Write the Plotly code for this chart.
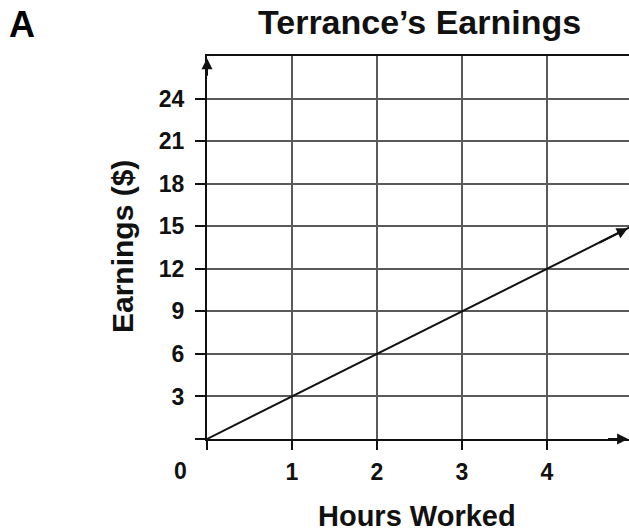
import plotly.graph_objects as go

# Terrance earns $3 for every hour worked
hours = [0, 1, 2, 3, 4, 5]
earnings = [0, 3, 6, 9, 12, 15]

x_ticks = [0, 1, 2, 3, 4]
x_tick_labels = ["", "1", "2", "3", "4"]
y_ticks = [0, 3, 6, 9, 12, 15, 18, 21, 24]
y_tick_labels = ["", "3", "6", "9", "12", "15", "18", "21", "24"]

X_MAX = 4.965
Y_MAX = 27

W, H = 629, 532
M_L, M_R, M_T, M_B = 207, 0, 56, 93
PLOT_W = W - M_L - M_R
PLOT_H = H - M_T - M_B

FONT = "Liberation Sans, Arial, sans-serif"
INK = "#111111"
GRID = "#5a5a5a"


def px_x(px):
    """Pixel column -> paper x."""
    return (px - M_L) / PLOT_W


def px_y(py):
    """Pixel row -> paper y."""
    return (H - M_B - py) / PLOT_H


rate = earnings[1] / hours[1]
tip_x = 4.95
tail_x = 4.6

fig = go.Figure()
fig.add_trace(go.Scatter(
    x=hours, y=earnings, mode="lines",
    line=dict(color=INK, width=2),
    hoverinfo="skip", showlegend=False,
))

arrow = dict(xref="x", yref="y", axref="x", ayref="y", text="",
             showarrow=True, arrowhead=2, arrowsize=1.1, arrowwidth=2, arrowcolor=INK)

annotations = [
    # arrowhead at the end of the earnings line
    dict(x=tip_x, y=rate * tip_x, ax=tail_x, ay=rate * tail_x, **arrow),
    # axis arrowheads
    dict(x=0, y=26.85, ax=0, ay=25.5, **arrow),
    dict(x=4.955, y=0, ax=4.7, ay=0, **arrow),
    # shared origin label
    dict(x=0, y=0, xref="x", yref="y", text="0", showarrow=False,
         xshift=-27, yshift=-32, font=dict(family=FONT, size=23, color=INK, weight="bold")),
    # panel letter
    dict(x=px_x(22), y=px_y(25), xref="paper", yref="paper", text="A", showarrow=False,
         xanchor="center", yanchor="middle",
         font=dict(family=FONT, size=36, color="#000000", weight="bold")),
    # title
    dict(x=px_x(419), y=px_y(22), xref="paper", yref="paper", text="Terrance’s Earnings",
         showarrow=False, xanchor="center", yanchor="middle",
         font=dict(family=FONT, size=34, color=INK, weight="bold")),
    # axis titles
    dict(x=px_x(417), y=px_y(516), xref="paper", yref="paper", text="Hours Worked",
         showarrow=False, xanchor="center", yanchor="middle",
         font=dict(family=FONT, size=29, color=INK, weight="bold")),
    dict(x=px_x(122), y=px_y(247), xref="paper", yref="paper", text="Earnings ($)",
         showarrow=False, xanchor="center", yanchor="middle", textangle=-90,
         font=dict(family=FONT, size=30, color=INK, weight="bold")),
]

fig.update_layout(
    width=W, height=H,
    margin=dict(l=M_L, r=M_R, t=M_T, b=M_B),
    paper_bgcolor="white", plot_bgcolor="white",
    xaxis=dict(
        range=[0, X_MAX], tickmode="array", tickvals=x_ticks, ticktext=x_tick_labels,
        showgrid=True, gridcolor=GRID, gridwidth=1.5, zeroline=False,
        showline=True, linecolor=INK, linewidth=2, mirror=True,
        ticks="outside", ticklen=9, tickwidth=2, tickcolor=INK,
        ticklabelstandoff=2,
        tickfont=dict(family=FONT, size=23, color=INK, weight="bold"),
    ),
    yaxis=dict(
        range=[0, Y_MAX], tickmode="array", tickvals=y_ticks, ticktext=y_tick_labels,
        showgrid=True, gridcolor=GRID, gridwidth=1.5, zeroline=False,
        showline=True, linecolor=INK, linewidth=2,
        ticks="outside", ticklen=10, tickwidth=2, tickcolor=INK,
        ticklabelstandoff=6,
        tickfont=dict(family=FONT, size=23, color=INK, weight="bold"),
    ),
    annotations=annotations,
)

fig.write_html("out.html")
